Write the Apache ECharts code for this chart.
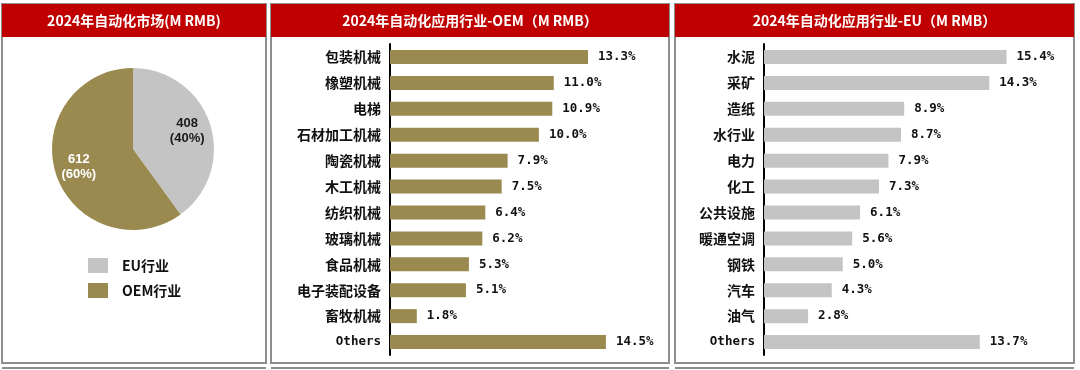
<!DOCTYPE html>
<html><head><meta charset="utf-8">
<script src="https://cdn.jsdelivr.net/npm/echarts@6/dist/echarts.min.js"></script>
<style>html,body{margin:0;padding:0;background:#fff}#c{width:1080px;height:370px}</style>
</head><body><div id="c"></div>
<script>
const pieNames = ['EU行业', 'OEM行业'];
const pieValues = [408, 612];
const oemCats = ['包装机械','橡塑机械','电梯','石材加工机械','陶瓷机械','木工机械','纺织机械','玻璃机械','食品机械','电子装配设备','畜牧机械','Others'];
const oemVals = [13.3, 11.0, 10.9, 10.0, 7.9, 7.5, 6.4, 6.2, 5.3, 5.1, 1.8, 14.5];
const euCats = ['水泥','采矿','造纸','水行业','电力','化工','公共设施','暖通空调','钢铁','汽车','油气','Others'];
const euVals = [15.4, 14.3, 8.9, 8.7, 7.9, 7.3, 6.1, 5.6, 5.0, 4.3, 2.8, 13.7];
const titles = ['2024年自动化市场(M RMB)', '2024年自动化应用行业-OEM（M RMB）', '2024年自动化应用行业-EU（M RMB）'];

const OLIVE = '#9B8A50', GREY = '#C4C4C4', RED = '#C00000', BORDER = '#8E8E8E';
const ZH = 'Noto Sans CJK SC', MONO = 'DejaVu Sans Mono';

const panels = [[2, 266], [271, 669], [675, 1074]];
const graphic = [];
panels.forEach((p, i) => {
  graphic.push({type:'rect', shape:{x:p[0], y:4, width:p[1]-p[0], height:359}, style:{fill:'#fff', stroke:BORDER, lineWidth:2}, z:0});
  graphic.push({type:'rect', shape:{x:p[0], y:4, width:p[1]-p[0], height:33}, style:{fill:RED}, z:1});
  graphic.push({type:'line', shape:{x1:p[0], y1:368, x2:p[1], y2:368}, style:{stroke:BORDER, lineWidth:2}, z:0});
  graphic.push({type:'text', x:(p[0]+p[1])/2, y:21, style:{text:titles[i], fill:'#fff', font:'bold 14px "' + ZH + '"', align:'center', verticalAlign:'middle'}, z:2});
});

function catLabel(v) {
  return /^[A-Za-z]+$/.test(v) ? '{en|' + v + '}' : '{zh|' + v + '}';
}
const catRich = {
  zh: {fontFamily: ZH, fontWeight: 'bold', fontSize: 14, color: '#111'},
  en: {fontFamily: MONO, fontWeight: 'bold', fontSize: 12.5, color: '#111'}
};
function yAxis(idx, cats) {
  return {type:'category', gridIndex: idx, data: cats, inverse: true,
    axisLine:{show:true, lineStyle:{color:'#000', width:2}}, axisTick:{show:false},
    axisLabel:{margin:9, formatter: catLabel, rich: catRich}};
}
function xAxis(idx) {
  return {type:'value', gridIndex: idx, min:0, max:18, show:false, splitLine:{show:false}};
}
function barSeries(idx, vals, color) {
  return {type:'bar', xAxisIndex: idx, yAxisIndex: idx, data: vals, barWidth: 14,
    itemStyle:{color: color}, silent: true,
    label:{show:true, position:'right', distance:10, formatter: p => p.value.toFixed(1) + '%',
      fontFamily: MONO, fontWeight:'bold', fontSize:12.5, color:'#111'}};
}

const chart = echarts.init(document.getElementById('c'));
chart.setOption({
  animation: false,
  graphic: graphic,
  legend: {orient:'vertical', left:83, top:253, itemWidth:20, itemHeight:15, itemGap:10,
    icon:'rect', selectedMode:false,
    data: pieNames.map((n, i) => ({name:n, itemStyle:{color: i === 0 ? GREY : OLIVE}})),
    textStyle:{fontFamily: ZH, fontWeight:'bold', fontSize:14, color:'#111', padding:[0,0,0,9]}},
  grid: [
    {left:390, top:44, width:268, height:311},
    {left:764, top:44, width:283.5, height:311}
  ],
  xAxis: [xAxis(0), xAxis(1)],
  yAxis: [yAxis(0, oemCats), yAxis(1, euCats)],
  series: [
    {type:'pie', center:[133,149], radius:[0,81], startAngle:90, silent:true,
      data: pieNames.map((n, i) => ({name:n, value:pieValues[i], itemStyle:{color: i === 0 ? GREY : OLIVE}})),
      label:{show:false}, labelLine:{show:false}},
    {type:'pie', center:[133,149], radius:[0,108], startAngle:90, silent:true,
      data: pieNames.map((n, i) => ({name:n, value:pieValues[i],
        itemStyle:{color:'rgba(0,0,0,0)'},
        label:{color: i === 0 ? '#1a1a1a' : '#fff'}})),
      label:{show:true, position:'inside', formatter:'{c}\n({d}%)', fontFamily:'Liberation Sans', fontWeight:'bold', fontSize:13, lineHeight:15},
      labelLine:{show:false}},
    barSeries(0, oemVals, OLIVE),
    barSeries(1, euVals, GREY)
  ]
});
</script></body></html>
